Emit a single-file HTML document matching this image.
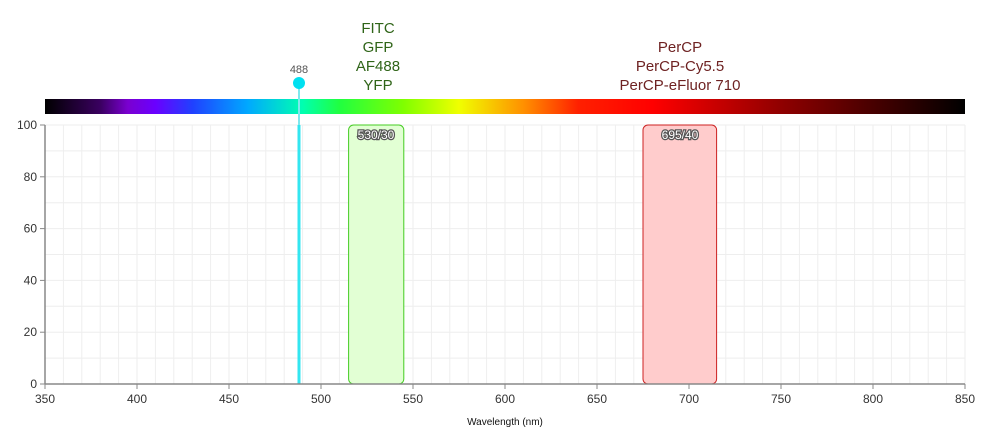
<!DOCTYPE html>
<html><head><meta charset="utf-8"><style>
body{margin:0;background:#fff;width:990px;height:435px;overflow:hidden}
svg{display:block;font-family:"Liberation Sans",sans-serif}
</style></head><body>
<svg width="990" height="435" viewBox="0 0 990 435">
<defs>
<linearGradient id="sp" x1="0" x2="1">
<stop offset="0" stop-color="#000"/>
<stop offset="0.06" stop-color="#3a0060"/>
<stop offset="0.09" stop-color="#7a00d0"/>
<stop offset="0.12" stop-color="#6a00ff"/>
<stop offset="0.16" stop-color="#2040ff"/>
<stop offset="0.22" stop-color="#00a8ff"/>
<stop offset="0.28" stop-color="#00ffb0"/>
<stop offset="0.32" stop-color="#20ff40"/>
<stop offset="0.39" stop-color="#80ff00"/>
<stop offset="0.45" stop-color="#f0ff00"/>
<stop offset="0.52" stop-color="#ff9000"/>
<stop offset="0.58" stop-color="#ff2000"/>
<stop offset="0.66" stop-color="#ff0000"/>
<stop offset="0.80" stop-color="#900000"/>
<stop offset="1" stop-color="#000"/>
</linearGradient>
</defs>
<g id="grid" stroke="#eeeeee" stroke-width="1"></g>
<rect x="45" y="99" width="920" height="15" fill="url(#sp)"/>
<g font-size="15" text-anchor="middle">
<text x="378" y="33" fill="#2f6418">FITC</text>
<text x="378" y="52" fill="#2f6418">GFP</text>
<text x="378" y="71" fill="#2f6418">AF488</text>
<text x="378" y="90" fill="#2f6418">YFP</text>
<text x="680" y="52" fill="#6e2222">PerCP</text>
<text x="680" y="71" fill="#6e2222">PerCP-Cy5.5</text>
<text x="680" y="90" fill="#6e2222">PerCP-eFluor 710</text>
</g>
<rect x="348.6" y="125" width="55.2" height="259" rx="5" fill="#e2ffd4" stroke="#44cc22" stroke-width="1"/>
<rect x="643" y="125" width="73.6" height="259" rx="5" fill="#ffcccc" stroke="#cc2222" stroke-width="1"/>
<g font-size="12" text-anchor="middle" fill="#fff" stroke="#555" stroke-width="2.5" paint-order="stroke">
<text x="376" y="139">530/30</text>
<text x="680" y="139">695/40</text>
</g>
<line x1="299" y1="125" x2="299" y2="384" stroke="#33e6f0" stroke-width="3"/>
<line x1="299" y1="84" x2="299" y2="125" stroke="#7fe8ee" stroke-width="2"/>
<circle cx="299" cy="83" r="6" fill="#00e0f0"/>
<text x="299" y="73" font-size="11" fill="#555" text-anchor="middle">488</text>
<line x1="45" y1="125" x2="45" y2="384" stroke="#888" stroke-width="1.5"/>
<line x1="45" y1="384" x2="965" y2="384" stroke="#888" stroke-width="1.5"/>
<g id="ticks" font-size="12" fill="#333"></g>
<text x="505" y="425" font-size="10" text-anchor="middle" fill="#111">Wavelength (nm)</text>
</svg>
<script>
var ns="http://www.w3.org/2000/svg",g=document.getElementById("grid"),t=document.getElementById("ticks");
function el(p,n,a,txt){var e=document.createElementNS(ns,n);for(var k in a)e.setAttribute(k,a[k]);if(txt!=null)e.textContent=txt;p.appendChild(e);}
for(var w=360;w<=850;w+=10){var x=45+(w-350)*1.84;el(g,"line",{x1:x,y1:125,x2:x,y2:384});}
for(var v=10;v<=100;v+=10){var y=384-v*2.59;el(g,"line",{x1:45,y1:y,x2:965,y2:y});}
for(var w=350;w<=850;w+=50){var x=45+(w-350)*1.84;el(t,"line",{x1:x,y1:384,x2:x,y2:389,stroke:"#888"});el(t,"text",{x:x,y:403,"text-anchor":"middle"},w);}
for(var v=0;v<=100;v+=20){var y=384-v*2.59;el(t,"line",{x1:40,y1:y,x2:45,y2:y,stroke:"#888"});el(t,"text",{x:37,y:y+4,"text-anchor":"end"},v);}
</script>
</body></html>
